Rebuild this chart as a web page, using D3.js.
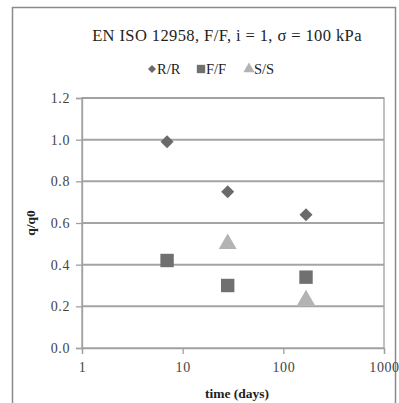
<!DOCTYPE html>
<html><head><meta charset="utf-8">
<script src="https://cdn.jsdelivr.net/npm/d3@7"></script>
<style>body{margin:0;background:#fff}svg{display:block}</style>
</head><body><svg id="c" width="399" height="403"></svg>
<script>
const titleText = "EN ISO 12958, F/F, i = 1, σ = 100 kPa";
const seriesNames = ["R/R", "F/F", "S/S"];
const rrX = [7, 28, 168];
const rrY = [0.99, 0.75, 0.64];
const ffX = [7, 28, 168];
const ffY = [0.42, 0.30, 0.34];
const ssX = [28, 168];
const ssY = [0.50, 0.23];
const xTicks = [1, 10, 100, 1000];
const yTicks = [0, 0.2, 0.4, 0.6, 0.8, 1.0, 1.2];
const colors = ["#6a6a6a", "#707070", "#b3b3b3"];

const svg = d3.select("#c");
const font = "'Liberation Serif', 'Times New Roman', serif";
// outer border
svg.append("rect").attr("x", 12.5).attr("y", 7.5).attr("width", 383).attr("height", 400)
  .attr("fill", "none").attr("stroke", "#8a8a8a").attr("stroke-width", 1.5);

const L = 82, R = 384, T = 98, B = 348;
const x = d3.scaleLog().domain([1, 1000]).range([L, R]);
const y = d3.scaleLinear().domain([0, 1.2]).range([B, T]);

// gridlines
svg.append("g").selectAll("line").data(yTicks.filter(d => d > 0)).join("line")
  .attr("x1", L).attr("x2", R).attr("y1", d => y(d)).attr("y2", d => y(d))
  .attr("stroke", "#a4a4a4").attr("stroke-width", 2);

// plot frame
svg.append("rect").attr("x", L).attr("y", T).attr("width", R - L).attr("height", B - T)
  .attr("fill", "none").attr("stroke", "#a0a0a0").attr("stroke-width", 1.3);

const yAxis = svg.append("g").attr("transform", `translate(${L},0)`)
  .call(d3.axisLeft(y).tickValues(yTicks).tickFormat(d3.format(".1f")).tickSize(6).tickPadding(6));
const xAxis = svg.append("g").attr("transform", `translate(0,${B})`)
  .call(d3.axisBottom(x).tickValues(xTicks).tickFormat(d3.format("d")).tickSize(6).tickPadding(8));
[yAxis, xAxis].forEach(a => {
  a.selectAll("path.domain").attr("stroke", "#a0a0a0").attr("stroke-width", 1.3);
  a.selectAll(".tick line").attr("stroke", "#a0a0a0").attr("stroke-width", 1.3);
  a.selectAll("text").attr("font-family", font).attr("font-size", 14).attr("fill", "#444")
    .attr("letter-spacing", 0.6);
});

// markers
svg.append("g").selectAll("path").data(rrX.map((d, i) => [d, rrY[i]])).join("path")
  .attr("d", d3.symbol().type(d3.symbolSquare).size(85))
  .attr("transform", d => `translate(${x(d[0])},${y(d[1])}) rotate(45)`)
  .attr("fill", colors[0]);
svg.append("g").selectAll("path").data(ffX.map((d, i) => [d, ffY[i]])).join("path")
  .attr("d", d3.symbol().type(d3.symbolSquare).size(180))
  .attr("transform", d => `translate(${x(d[0])},${y(d[1])})`)
  .attr("fill", colors[1]);
svg.append("g").selectAll("path").data(ssX.map((d, i) => [d, ssY[i]])).join("path")
  .attr("d", d3.symbol().type(d3.symbolTriangle).size(140))
  .attr("transform", d => `translate(${x(d[0])},${y(d[1])})`)
  .attr("fill", colors[2]);

// title
svg.append("text").attr("x", 227).attr("y", 41).attr("text-anchor", "middle")
  .attr("font-family", font).attr("font-size", 16.5).attr("letter-spacing", 0.4).attr("fill", "#222").text(titleText);

// legend
const lg = svg.append("g");
const legX = [152, 201, 249];
seriesNames.forEach((n, i) => {
  const cx = legX[i], cy = 69;
  const p = lg.append("path").attr("fill", colors[i]);
  if (i === 0) p.attr("d", d3.symbol().type(d3.symbolSquare).size(32)).attr("transform", `translate(${cx},${cy}) rotate(45)`);
  if (i === 1) p.attr("d", d3.symbol().type(d3.symbolSquare).size(70)).attr("transform", `translate(${cx},${cy})`);
  if (i === 2) p.attr("d", d3.symbol().type(d3.symbolTriangle).size(55)).attr("transform", `translate(${cx},${cy})`);
  lg.append("text").attr("x", cx + 5).attr("y", 74).attr("font-family", font).attr("font-size", 14.5)
    .attr("fill", "#222").text(n);
});

// axis labels
svg.append("text").attr("x", 237).attr("y", 398).attr("text-anchor", "middle")
  .attr("font-family", font).attr("font-size", 13.5).attr("font-weight", "bold").attr("fill", "#222")
  .text("time (days)");
svg.append("text").attr("transform", "translate(35,223) rotate(-90)").attr("text-anchor", "middle")
  .attr("font-family", font).attr("font-size", 13.5).attr("font-weight", "bold").attr("fill", "#222")
  .text("q/q0");
</script></body></html>
